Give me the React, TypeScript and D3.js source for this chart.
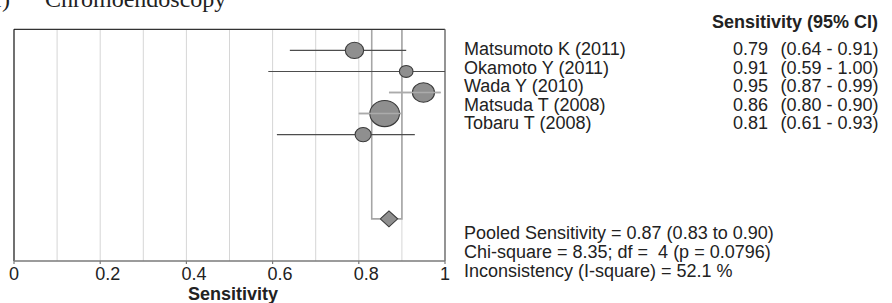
import React from 'react';
import * as d3 from 'd3';

const studies = ['Matsumoto K (2011)', 'Okamoto Y (2011)', 'Wada Y (2010)', 'Matsuda T (2008)', 'Tobaru T (2008)'];
const sensitivity = [0.79, 0.91, 0.95, 0.86, 0.81];
const ciLower = [0.64, 0.59, 0.87, 0.8, 0.61];
const ciUpper = [0.91, 1.0, 0.99, 0.9, 0.93];
const studyWeights = [15.8, 8.6, 22.6, 40.9, 12.0];
const pooledEstimate = [0.87];
const pooledCI = [0.83, 0.9];
const xTicks = [0, 0.2, 0.4, 0.6, 0.8, 1];
const xTickLabels = ['0', '0.2', '0.4', '0.6', '0.8', '1'];
const gridValues = [0.1, 0.2, 0.3, 0.4, 0.5, 0.6, 0.7, 0.8, 0.9];
const statLines = [
  'Pooled Sensitivity = 0.87 (0.83 to 0.90)',
  'Chi-square = 8.35; df =  4 (p = 0.0796)',
  'Inconsistency (I-square) = 52.1 %',
];
const panelLabel = '(f)';
const panelTitle = 'Chromoendoscopy';
const axisTitle = 'Sensitivity';
const columnHeader = 'Sensitivity (95% CI)';

const W = 892;
const H = 303;
const L = 14;
const R = 445;
const T = 29.3;
const B = 261;
const SANS = "'Liberation Sans', Arial, sans-serif";

export default function App() {
  const x = d3.scaleLinear().domain([0, 1]).range([L, R]);
  const y = d3.scaleLinear().domain([-1, 10]).range([T, B]);
  const r = d3.scaleSqrt().domain([0, 100]).range([0, 23.2]);
  const pooledRow = 8;
  const yd = y(pooledRow);
  const px = x(pooledEstimate[0]);
  const dHalfW = 8.7;
  const dHalfH = 8;
  const diamond = d3.line()([
    [px - dHalfW, yd],
    [px, yd - dHalfH],
    [px + dHalfW, yd],
    [px, yd + dHalfH],
    [px - dHalfW, yd],
  ]) as string;

  const nameY0 = 55;
  const nameStep = 18.5;
  const fs = 18;

  return (
    <svg
      width={W}
      height={H}
      style={{ position: 'absolute', left: 0, top: 0, background: '#fff' }}
      xmlns="http://www.w3.org/2000/svg"
    >
      <rect x={0} y={0} width={W} height={H} fill="#fff" />
      {/* title */}
      <text x={10} y={6.5} fontFamily="'Liberation Serif', serif" fontSize={24} textAnchor="end" fill="#222">
        {panelLabel}
      </text>
      <text x={45} y={6.5} fontFamily="'Liberation Serif', serif" fontSize={24} fill="#222">
        {panelTitle}
      </text>

      {/* gridlines */}
      {gridValues.map((g) => (
        <line key={g} x1={x(g)} x2={x(g)} y1={T} y2={B} stroke="#d6d6d6" strokeWidth={1} />
      ))}

      {/* pooled bracket */}
      <path
        d={`M${x(pooledCI[0])},${T} V${yd} H${px - dHalfW}`}
        fill="none"
        stroke="#a6a6a6"
        strokeWidth={1.6}
      />
      <path
        d={`M${x(pooledCI[1])},${T} V${yd} H${px + dHalfW}`}
        fill="none"
        stroke="#a6a6a6"
        strokeWidth={1.6}
      />

      {/* frame */}
      <line x1={L} x2={R} y1={T} y2={T} stroke="#333" strokeWidth={1.2} />
      <line x1={L} x2={L} y1={T} y2={B} stroke="#111" strokeWidth={1.2} />
      <line x1={R} x2={R} y1={T} y2={B} stroke="#666" strokeWidth={1.4} />
      <line x1={L} x2={R} y1={B} y2={B} stroke="#7a7a7a" strokeWidth={1.5} />
      {xTicks.map((t) => (
        <line key={t} x1={x(t)} x2={x(t)} y1={B} y2={B + 3} stroke="#7a7a7a" strokeWidth={1.2} />
      ))}
      {xTicks.map((t, i) => (
        <text key={t} x={x(t) - 5} y={280} fontFamily={SANS} fontSize={fs} fill="#222">
          {xTickLabels[i]}
        </text>
      ))}
      <text x={233} y={300} textAnchor="middle" fontFamily={SANS} fontWeight="bold" fontSize={18} fill="#222">
        {axisTitle}
      </text>

      {/* studies */}
      {studies.map((s, i) => {
        const narrow = ciUpper[i] - ciLower[i] < 0.15;
        return (
          <line
            key={s + 'ci'}
            x1={x(ciLower[i])}
            x2={x(ciUpper[i])}
            y1={y(i)}
            y2={y(i)}
            stroke={narrow ? '#ababab' : '#4d4d4d'}
            strokeWidth={narrow ? 1.6 : 1.1}
          />
        );
      })}
      {studies.map((s, i) => {
        const rx = r(studyWeights[i]);
        return (
          <g key={s + 'mk'}>
            <ellipse
              cx={x(sensitivity[i])}
              cy={y(i)}
              rx={rx}
              ry={rx * 0.88}
              fill="#8f8f8f"
              stroke="#3a3a3a"
              strokeWidth={1.1}
            />
            {ciUpper[i] - ciLower[i] < 0.15 && (
              <line
                x1={x(ciLower[i])}
                x2={x(ciUpper[i])}
                y1={y(i)}
                y2={y(i)}
                stroke="#ababab"
                strokeWidth={1.6}
              />
            )}
          </g>
        );
      })}
      <path d={diamond} fill="#8f8f8f" stroke="#3a3a3a" strokeWidth={1.1} />

      {/* right table */}
      <text x={878} y={28} textAnchor="end" fontFamily={SANS} fontWeight="bold" fontSize={18} fill="#222">
        {columnHeader}
      </text>
      {studies.map((s, i) => (
        <g key={s + 'txt'} fontFamily={SANS} fontSize={fs} fill="#222">
          <text x={464} y={nameY0 + i * nameStep}>{s}</text>
          <text x={733} y={nameY0 + i * nameStep}>{sensitivity[i].toFixed(2)}</text>
          <text x={780.5} y={nameY0 + i * nameStep}>
            {`(${ciLower[i].toFixed(2)} - ${ciUpper[i].toFixed(2)})`}
          </text>
        </g>
      ))}
      {statLines.map((s, i) => (
        <text key={s} x={464} y={239 + i * 19} fontFamily={SANS} fontSize={fs} fill="#222" xmlSpace="preserve">
          {s}
        </text>
      ))}
    </svg>
  );
}
